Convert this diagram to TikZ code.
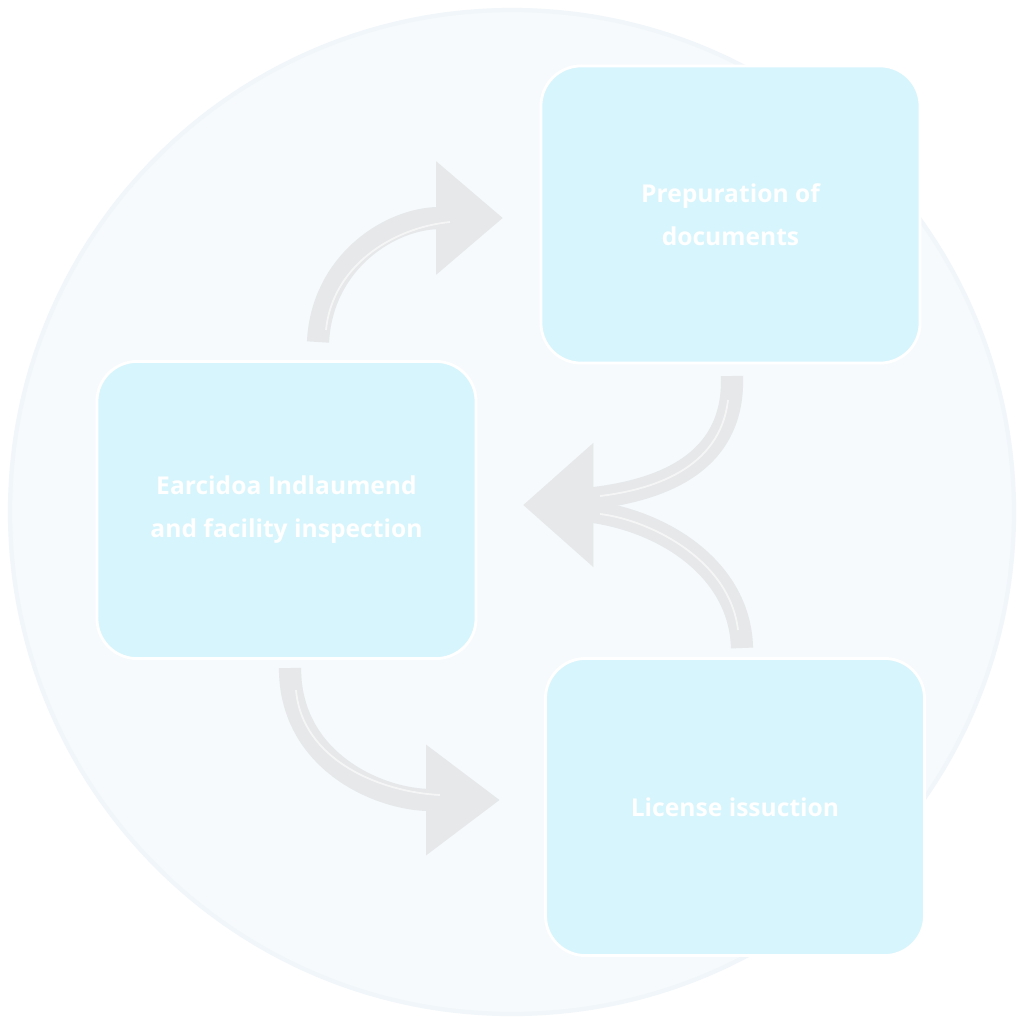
\documentclass[tikz,border=0pt]{standalone}
\usepackage{fontspec}
\newfontfamily\boxfont{Open Sans}
\usetikzlibrary{arrows.meta}
\definecolor{boxfill}{HTML}{D7F5FC}
\definecolor{arrowgray}{HTML}{E6E8EA}
\definecolor{circfill}{HTML}{F6FAFC}
\definecolor{circedge}{HTML}{F0F6F9}
\tikzset{
  stepbox/.style={rectangle, rounded corners=11.4pt, fill=boxfill, draw=white, line width=0.8pt,
    minimum width=107.8pt, minimum height=84.5pt, inner sep=0pt, align=center,
    text=white, font=\boxfont\bfseries\fontsize{7.0}{12.2}\selectfont},
  flow/.style={draw=arrowgray, line width=6.3pt},
  shine/.style={draw=white, line width=0.5pt, opacity=0.6},
}
\begin{document}
\begin{tikzpicture}[x=0.01cm, y=-0.01cm]
\useasboundingbox (0,0) rectangle (1024,1024);
\fill[white] (0,0) rectangle (1024,1024);
\draw[fill=circfill, draw=circedge, line width=1.2pt] (512,512) circle (502);

\node[stepbox] (P) at (730.5,214.5) {Prepuration of\\documents};
\node[stepbox] (L) at (286.5,510) {Earcidoa Indlaumend\\and facility inspection};
\node[stepbox] (I) at (735,807) {License issuction};

% arrow 1: L -> P
\coordinate (a1s) at (318,342);
\coordinate (a1e) at (503,218);
\draw[flow, -{Triangle[length=19pt, width=31pt]}] (a1s) .. controls (322,262) and (390,218) .. (a1e);
\draw[shine] (326,330) .. controls (332,268) and (390,228) .. (450,222);

% arrow 2: P -> L and I -> L (merged)
\coordinate (a2a) at (732,376);
\coordinate (a2b) at (742,648);
\coordinate (a2m) at (585,505);
\coordinate (a2e) at (523,505);
\draw[flow] (a2a) .. controls (735,470) and (650,494) .. (575,500);
\draw[flow] (a2b) .. controls (740,565) and (655,515) .. (575,510);
\draw[flow, -{Triangle[length=20pt, width=34pt]}] (a2m) -- (a2e);
\draw[shine] (728,400) .. controls (720,470) and (650,490) .. (600,496);
\draw[shine] (738,630) .. controls (730,560) and (650,520) .. (600,514);

% arrow 3: L -> I
\coordinate (a3s) at (290,668);
\coordinate (a3e) at (500,800);
\draw[flow, -{Triangle[length=21pt, width=30pt]}] (a3s) .. controls (290,762) and (380,800) .. (a3e);
\draw[shine] (296,690) .. controls (302,760) and (380,792) .. (440,795);
\end{tikzpicture}
\end{document}
